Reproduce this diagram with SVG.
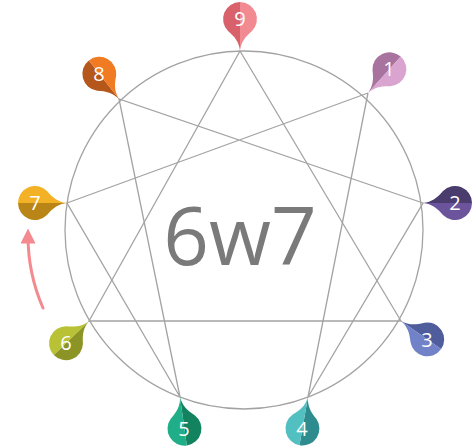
<svg xmlns="http://www.w3.org/2000/svg" width="474" height="448" viewBox="0 0 474 448">
<defs>
<style>
.ln{fill:none;stroke:#a3a3a3;stroke-width:1.3}
.lbl{font-family:"Open Sans","Liberation Sans",sans-serif;font-size:20px;fill:#ffffff;text-anchor:middle}
.big{font-family:"Open Sans","Liberation Sans",sans-serif;font-size:80px;fill:#7a7a7a;text-anchor:middle}
</style>
<path id="lh" d="M0,0 C1,-9 5,-14 12,-20 A17,17 0 0 0 0,-49 Z"/>
<path id="dh" d="M0,0 C-1,-9 -5,-14 -12,-20 A17,17 0 0 1 0,-49 Z"/>
<marker id="ah" viewBox="0 0 10 10" refX="5" refY="5" markerWidth="5" markerHeight="5" orient="auto">
<path d="M0,0 L10,5 L0,10 Z" fill="#f48a90"/>
</marker>
</defs>
<rect width="474" height="448" fill="#ffffff"/>
<g id="connectors">
<circle class="ln" cx="244" cy="230" r="179"/>
<polygon class="ln" points="240,51 401,321 89,321"/>
<polyline class="ln" points="368,93 308,397 423,203 119,99 180,397 67,203 368,93"/>
<path d="M43,308 C33,285 28,262 28,236" fill="none" stroke="#f48a90" stroke-width="3" stroke-linecap="round" marker-end="url(#ah)"/>
</g>
<g id="center-label"><text class="big" x="240" y="265">6w7</text></g>
<g id="n9"><g transform="translate(240,51) rotate(0)"><use href="#dh" fill="#d9616c"/><use href="#lh" fill="#f28a92"/></g><text class="lbl" x="240" y="26">9</text></g>
<g id="n1"><g transform="translate(368,93) rotate(42)"><use href="#dh" fill="#a9739f"/><use href="#lh" fill="#d9a4d0"/></g><text class="lbl" x="389" y="76">1</text></g>
<g id="n2"><g transform="translate(423,203) rotate(90)"><use href="#dh" fill="#4b3c6e"/><use href="#lh" fill="#6b549b"/></g><text class="lbl" x="455" y="210">2</text></g>
<g id="n3"><g transform="translate(401,321) rotate(125)"><use href="#dh" fill="#4f5d9c"/><use href="#lh" fill="#7282c8"/></g><text class="lbl" x="427" y="347">3</text></g>
<g id="n4"><g transform="translate(308,397) rotate(190)"><use href="#dh" fill="#2e8b8e"/><use href="#lh" fill="#52bfc1"/></g><text class="lbl" x="302" y="436">4</text></g>
<g id="n5"><g transform="translate(180,397) rotate(172)"><use href="#dh" fill="#12825f"/><use href="#lh" fill="#1fae88"/></g><text class="lbl" x="184" y="436">5</text></g>
<g id="n6"><g transform="translate(89,321) rotate(226)"><use href="#dh" fill="#8c9426"/><use href="#lh" fill="#b8c234"/></g><text class="lbl" x="66" y="350">6</text></g>
<g id="n7"><g transform="translate(67,203) rotate(270)"><use href="#dh" fill="#b98516"/><use href="#lh" fill="#f3b125"/></g><text class="lbl" x="35" y="210">7</text></g>
<g id="n8"><g transform="translate(119,99) rotate(322)"><use href="#dh" fill="#b5561a"/><use href="#lh" fill="#f07b22"/></g><text class="lbl" x="99" y="81">8</text></g>
</svg>
